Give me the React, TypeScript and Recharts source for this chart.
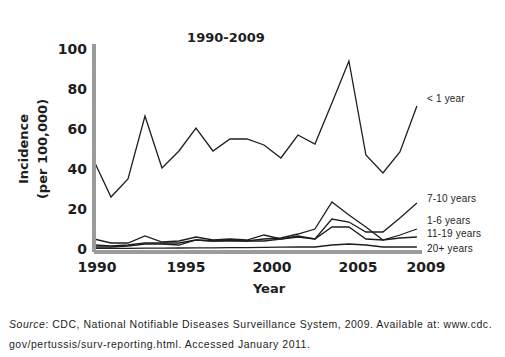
import React from 'react';
import { LineChart, Line, XAxis, YAxis } from 'recharts';

const years = [1990, 1991, 1992, 1993, 1994, 1995, 1996, 1997, 1998, 1999, 2000, 2001, 2002, 2003, 2004, 2005, 2006, 2007, 2008, 2009];
const under1 = [44, 26, 35, 66.5, 40.5, 49, 60.5, 49, 55, 55, 52, 45.5, 57, 52.5, 73, 94, 47, 38, 48.5, 71.5];
const age7to10 = [2, 1.5, 2, 3, 3, 3, 4.5, 4, 4.5, 4, 4, 5, 6, 5, 15, 13.5, 8.5, 8.5, 15.5, 23];
const age1to6 = [5, 3, 3, 6.5, 3.5, 4, 6, 4.5, 5, 4.5, 7, 5, 6.5, 5, 11, 11, 5, 4.5, 7, 10];
const age11to19 = [1, 1, 1.5, 2.5, 2.5, 2, 4.5, 4, 4, 4, 5, 5.5, 7.5, 10, 23.5, 17, 11, 4.5, 5.5, 6];
const age20plus = [0.3, 0.3, 0.3, 0.4, 0.4, 0.5, 0.6, 0.6, 0.7, 0.7, 0.8, 0.9, 1, 1, 2, 2.5, 2, 1, 1, 1];

const xTicks = [1990, 1995, 2000, 2005, 2009];
const yTicks = [0, 20, 40, 60, 80, 100];

const seriesNames = ['< 1 year', '7-10 years', '1-6 years', '11-19 years', '20+ years'];
const seriesKeys = ['u1', 'a710', 'a16', 'a1119', 'a20'];
const labelDy = [-8, -5, -9, -4, 1];
const xTickDx = [3, 7, 8, 9, 9];

const data = years.map((y, i) => ({
  year: y,
  u1: under1[i],
  a710: age7to10[i],
  a16: age1to6[i],
  a1119: age11to19[i],
  a20: age20plus[i],
}));

const axisGray = '#9b9b9b';
const ink = '#1e1e1e';
const boldFont = '"DejaVu Sans", sans-serif';
const thinFont = '"Liberation Sans", Arial, sans-serif';

const XTick = (props: any) => {
  const idx = xTicks.indexOf(props.payload.value);
  return (
    <text x={props.x + (xTickDx[idx] || 0)} y={props.y} dy={12} textAnchor="middle"
      fontFamily={boldFont} fontWeight="bold" fontSize={14} fill={ink}>
      {props.payload.value}
    </text>
  );
};

const YTick = (props: any) => (
  <text x={props.x + 1} y={props.y} dy={5} textAnchor="end"
    fontFamily={boldFont} fontWeight="bold" fontSize={14} fill={ink}>
    {props.payload.value}
  </text>
);

const makeLabel = (si: number) => (props: any) => {
  if (props.index !== years.length - 1) return null;
  return (
    <text x={props.x + 10} y={props.y + labelDy[si]} dy={4} textAnchor="start"
      fontFamily={thinFont} fontSize={10} fill={ink} letterSpacing={0.2}>
      {seriesNames[si]}
    </text>
  );
};

export default function App() {
  return (
    <div style={{ position: 'absolute', left: 0, top: 0, width: 505, height: 357, background: '#fff' }}>
      <LineChart width={505} height={300} data={data}
        margin={{ top: 44, right: 83, left: 34, bottom: 18 }}
        style={{ position: 'absolute', left: 0, top: 0, overflow: 'visible' }}>
        <XAxis dataKey="year" type="number" domain={[1990, 2009.3]} ticks={xTicks}
          allowDataOverflow height={30} tickLine={false}
          axisLine={{ stroke: axisGray, strokeWidth: 4 }} tick={XTick} />
        <YAxis type="number" domain={[-1.5, 102.5]} ticks={yTicks} allowDataOverflow width={60}
          tickLine={false} axisLine={{ stroke: axisGray, strokeWidth: 4 }} tick={YTick} />
        {seriesKeys.map((k, si) => (
          <Line key={k} dataKey={k} type="linear" stroke={ink} strokeWidth={1.3}
            dot={false} activeDot={false} isAnimationActive={false} label={makeLabel(si)} />
        ))}
      </LineChart>
      <svg width={505} height={357} style={{ position: 'absolute', left: 0, top: 0, pointerEvents: 'none' }}>
        <text x={226} y={37} dy={5} textAnchor="middle" fontFamily={boldFont} fontWeight="bold" fontSize={13} fill={ink}>1990-2009</text>
        <text transform="translate(23,149) rotate(-90)" dy={5} textAnchor="middle" fontFamily={boldFont} fontWeight="bold" fontSize={13} fill={ink}>Incidence</text>
        <text transform="translate(42,149) rotate(-90)" dy={5} textAnchor="middle" fontFamily={boldFont} fontWeight="bold" fontSize={13} fill={ink}>(per 100,000)</text>
        <text x={269} y={288} dy={5} textAnchor="middle" fontFamily={boldFont} fontWeight="bold" fontSize={13} fill={ink}>Year</text>
      </svg>
      <div style={{ position: 'absolute', left: 9, top: 314, width: 496, fontFamily: thinFont, fontSize: 10.5, lineHeight: '20px', color: ink, whiteSpace: 'nowrap', letterSpacing: 0.52 }}>
        <i>Source</i>: CDC, National Notifiable Diseases Surveillance System, 2009. Available at: www.cdc.<br />
        gov/pertussis/surv-reporting.html. Accessed January 2011.
      </div>
    </div>
  );
}
